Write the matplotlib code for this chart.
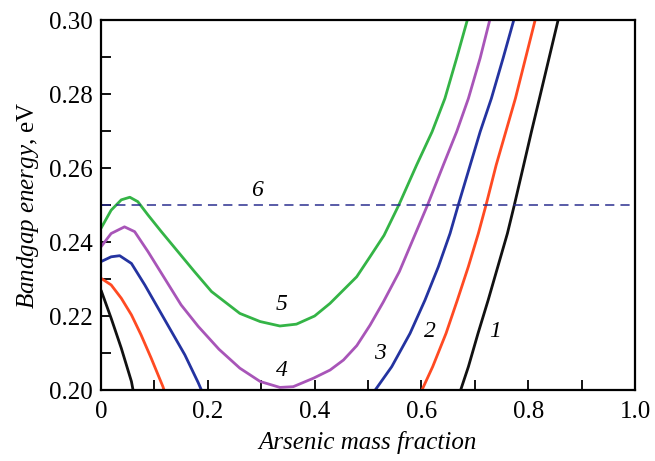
import numpy as np
import matplotlib.pyplot as plt

plt.rcParams['font.family'] = ['Liberation Serif', 'DejaVu Serif']
plt.rcParams['mathtext.fontset'] = 'custom'
plt.rcParams['mathtext.rm'] = 'Liberation Serif'
plt.rcParams['mathtext.it'] = 'Liberation Serif:italic'

# arsenic mass fraction / bandgap (eV); nan splits the low-x and high-x branches
x1 = [0.0, 0.019, 0.038, 0.057, 0.060, np.nan,
      0.6735, 0.688, 0.706, 0.725, 0.743, 0.761, 0.774, 0.7915, 0.806, 0.821, 0.839, 0.856]
y1 = [0.2270, 0.2194, 0.2113, 0.2023, 0.2000, np.nan,
      0.2000, 0.2063, 0.2153, 0.2243, 0.2333, 0.2423, 0.2500, 0.2608, 0.2698, 0.2788, 0.2897, 0.3000]

x2 = [0.0, 0.019, 0.038, 0.057, 0.075, 0.094, 0.116, 0.118, np.nan,
      0.601, 0.6211, 0.6461, 0.6673, 0.6878, 0.7066, 0.721, 0.740, 0.776, 0.813]
y2 = [0.2302, 0.2284, 0.2248, 0.2203, 0.2149, 0.2086, 0.2009, 0.2000, np.nan,
      0.2000, 0.2063, 0.2153, 0.2243, 0.2333, 0.2423, 0.2500, 0.2608, 0.2788, 0.3000]

x3 = [0.0, 0.019, 0.035, 0.057, 0.082, 0.107, 0.132, 0.157, 0.182, 0.188, np.nan,
      0.5135, 0.5444, 0.5787, 0.6067, 0.6317, 0.6536, 0.669, 0.710, 0.731, 0.753, 0.773]
y3 = [0.2347, 0.2360, 0.2363, 0.2342, 0.2284, 0.2221, 0.2158, 0.2095, 0.2020, 0.2000, np.nan,
      0.2000, 0.2063, 0.2153, 0.2243, 0.2333, 0.2423, 0.2500, 0.2698, 0.2788, 0.2897, 0.3000]

x4 = [0.0, 0.019, 0.044, 0.063, 0.088, 0.119, 0.150, 0.182, 0.221, 0.260, 0.298, 0.335, 0.360,
      0.398, 0.429, 0.454, 0.479, 0.5037, 0.5287, 0.5587, 0.6115, 0.641, 0.666, 0.688, 0.710, 0.728]
y4 = [0.2387, 0.2423, 0.2441, 0.2428, 0.2374, 0.2302, 0.2230, 0.2172, 0.2110, 0.2059, 0.2023,
      0.2007, 0.2009, 0.2032, 0.2054, 0.2081, 0.2120, 0.2175, 0.2238, 0.2320, 0.2500, 0.2608,
      0.2698, 0.2788, 0.2897, 0.3000]

x5 = [0.0, 0.019, 0.038, 0.054, 0.069, 0.088, 0.113, 0.144, 0.175, 0.207, 0.260, 0.298,
      0.335, 0.366, 0.400, 0.4288, 0.4538, 0.4788, 0.5037, 0.530, 0.5577, 0.591, 0.620, 0.644,
      0.666, 0.686]
y5 = [0.2437, 0.2486, 0.2514, 0.2521, 0.2509, 0.2473, 0.2428, 0.2374, 0.2320, 0.2266, 0.2207,
      0.2185, 0.2173, 0.2178, 0.2200, 0.2234, 0.2270, 0.2306, 0.2360, 0.2418, 0.2500, 0.2608,
      0.2698, 0.2788, 0.2897, 0.3000]

level6 = 0.25

colors = ['#111111', '#ff4a22', '#2433a0', '#a855b8', '#34b446']
labels = ['1', '2', '3', '4', '5']
label_xy = [(0.738, 0.2158), (0.616, 0.2158), (0.522, 0.2100), (0.338, 0.2054), (0.338, 0.2230)]

fig = plt.figure(figsize=(6.55, 4.61), dpi=100)
ax = fig.add_axes([0.1542, 0.154, 0.8153, 0.8026])

for xs, ys, c in zip([x1, x2, x3, x4, x5], [y1, y2, y3, y4, y5], colors):
    ax.plot(xs, ys, color=c, lw=2.0, solid_capstyle='butt', solid_joinstyle='round')
ax.axhline(level6, color='#2b2f8f', lw=1.1, dashes=(6, 4))

for t, (lx, ly) in zip(labels, label_xy):
    ax.text(lx, ly, t, fontsize=17, style='italic', ha='center', va='center')
ax.text(0.292, 0.2540, '6', fontsize=17, style='italic', ha='center', va='center')

ax.set_xlim(0, 1.0)
ax.set_ylim(0.20, 0.30)
ax.set_xticks([0, 0.2, 0.4, 0.6, 0.8, 1.0])
ax.set_xticklabels(['0', '0.2', '0.4', '0.6', '0.8', '1.0'])
ax.set_yticks(np.arange(0.20, 0.301, 0.02))
ax.set_yticklabels(['0.20', '0.22', '0.24', '0.26', '0.28', '0.30'])
ax.set_xticks(np.arange(0.1, 1.0, 0.2), minor=True)
ax.set_yticks(np.arange(0.21, 0.30, 0.02), minor=True)
ax.tick_params(which='both', direction='in', length=7, width=1.3, labelsize=18,
               top=False, right=False)
ax.tick_params(axis='x', pad=8)
ax.tick_params(axis='y', pad=6)
for s in ax.spines.values():
    s.set_linewidth(1.6)

ax.set_xlabel('Arsenic mass fraction', fontsize=18, style='italic', labelpad=6)
ax.set_ylabel(r'$\mathit{Bandgap\ energy}$, eV', fontsize=18, labelpad=6)

fig.savefig('out.png', dpi=100)
